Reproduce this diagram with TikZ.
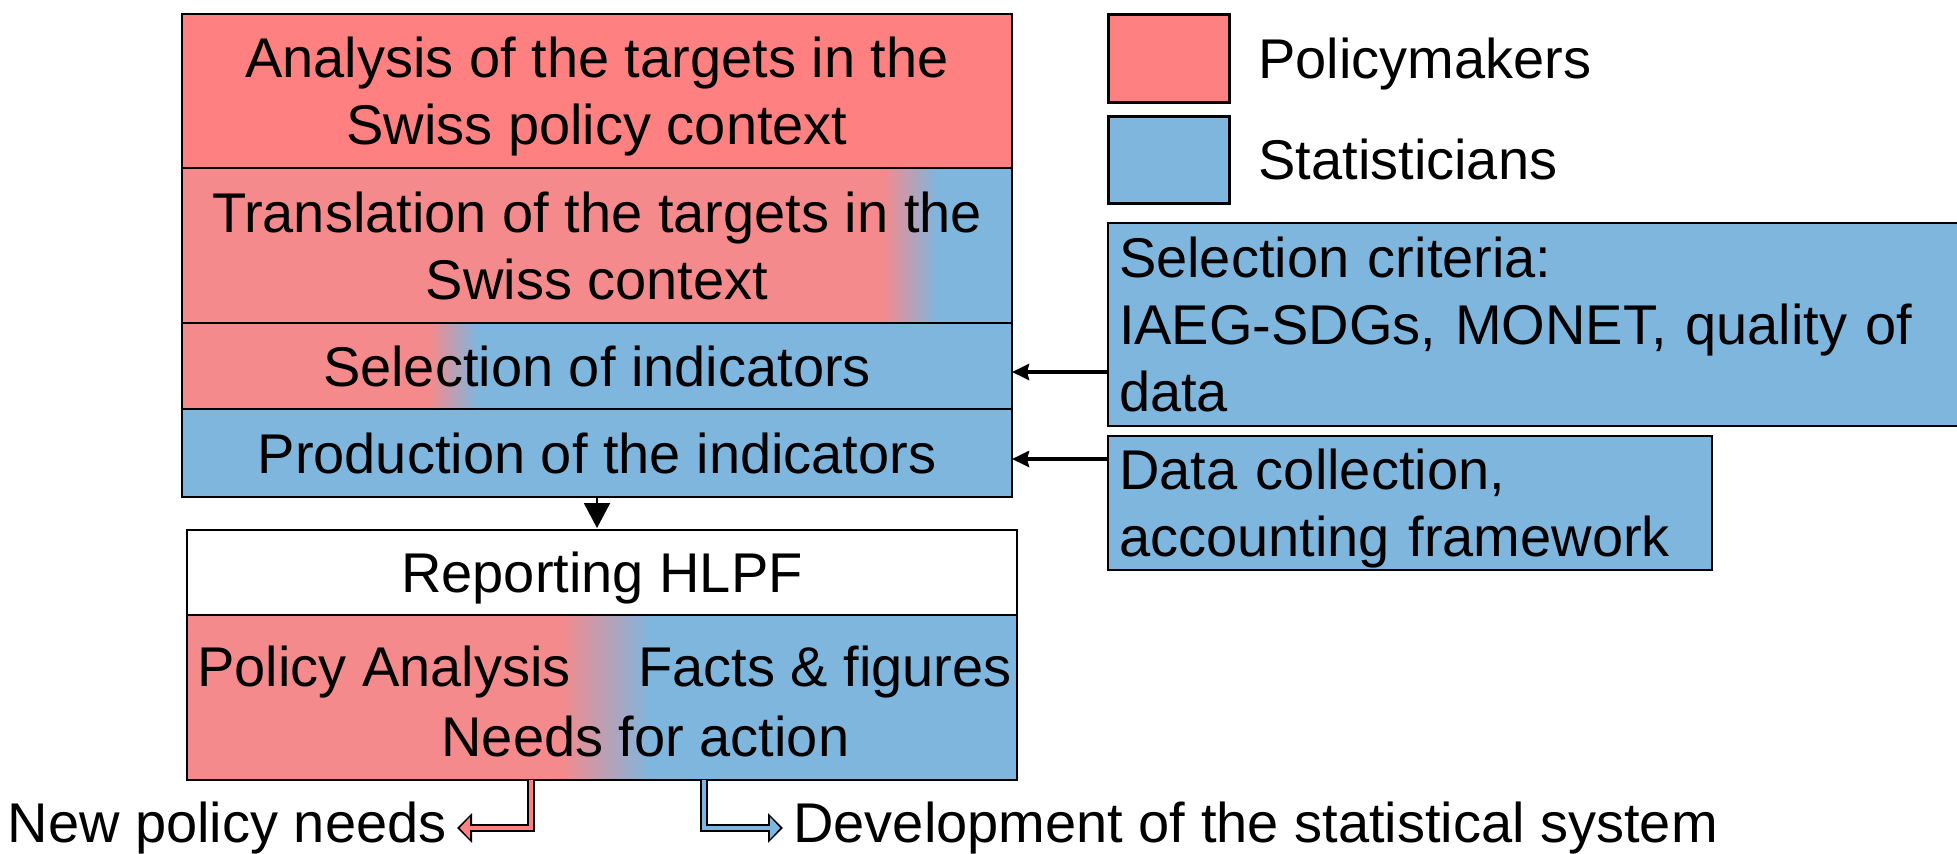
\documentclass[tikz,border=0pt]{standalone}
\usepackage{fontspec}
\setmainfont{Liberation Sans}
\usetikzlibrary{arrows.meta,positioning}

\definecolor{polred}{HTML}{FF8080}
\definecolor{polmix}{HTML}{F58A8C}
\definecolor{statblue}{HTML}{7FB6DD}
\pgfdeclarehorizontalshading{transshade}{100bp}{color(0bp)=(polmix); color(67.2bp)=(polmix); color(70.5bp)=(statblue); color(100bp)=(statblue)}
\pgfdeclarehorizontalshading{selshade}{100bp}{color(0bp)=(polmix); color(39.9bp)=(polmix); color(42.8bp)=(statblue); color(100bp)=(statblue)}
\pgfdeclarehorizontalshading{repshade}{100bp}{color(0bp)=(polmix); color(47.5bp)=(polmix); color(52.9bp)=(statblue); color(100bp)=(statblue)}

\begin{document}
\begin{tikzpicture}[node distance=0pt, every node/.style={font=\fontsize{28pt}{33.5pt}\selectfont}, stepbox/.style={rectangle, draw=black, line width=1.2pt, outer sep=0pt, minimum width=415pt, align=center, inner sep=0pt, text depth=-1pt}, sidebox/.style={rectangle, draw=black, line width=1.2pt, outer sep=0pt, fill=statblue, align=left, inner xsep=5.5pt, inner ysep=0pt}, keybox/.style={rectangle, draw=black, line width=1.5pt, outer sep=0pt, minimum width=60.5pt, minimum height=44pt}, keytext/.style={inner sep=0pt}, pil/.style={-{Stealth[length=8.5pt,width=8pt,inset=1pt]}, line width=2pt}, outarr/.style={line width=2.2pt, draw=#1, -{Triangle[length=5pt,width=10.5pt]}, shorten >=1.4pt, preaction={draw=black, line width=4pt, -{Triangle[length=7.5pt,width=14.5pt]}, shorten >=0pt}}]
	 \useasboundingbox (0,0) rectangle (978.5pt,-426.5pt);
	 % process column
	 \node[stepbox, fill=polred, minimum height=77pt, anchor=north west] (anal) at (91pt,-7pt) {Analysis of the targets in the\\Swiss policy context};
	 \node[stepbox, shade, shading=transshade, minimum height=77.5pt, below=of anal] (trans) {Translation of the targets in the\\Swiss context};
	 \node[stepbox, shade, shading=selshade, minimum height=43pt, below=of trans] (sel) {Selection of indicators};
	 \node[stepbox, fill=statblue, minimum height=44pt, below=of sel] (prod) {Production of the indicators};
	 \node[stepbox, fill=white, minimum height=42.5pt, below=16.5pt of prod, xshift=2.5pt] (rep) {Reporting HLPF};
	 \node[stepbox, shade, shading=repshade, minimum height=82.5pt, below=of rep] (rmix) {};
	 \node[keytext, anchor=west] (pa) at ([xshift=5pt,yshift=-28.5pt]rmix.north west) {Policy Analysis};
	 \node[keytext, anchor=east] (ff) at ([xshift=-2.5pt,yshift=-28.5pt]rmix.north east) {Facts \& figures};
	 \node[keytext] (nfa) at ([xshift=21.7pt,yshift=-60.5pt]rmix.north) {Needs for action};
	 % legend
	 \node[keybox, fill=polred, anchor=north west] (pol) at (554pt,-7pt) {};
	 \node[keybox, fill=statblue, minimum height=43.5pt, below=7pt of pol] (stat) {};
	 \node[keytext, text depth=0pt, right=14.5pt of pol] (poltxt) {Policymakers};
	 \node[keytext, text depth=0pt, right=14.5pt of stat] (stattxt) {Statisticians};
	 % inputs
	 \node[sidebox, text width=419pt, minimum height=101.5pt, below=10pt of stat.south west, anchor=north west] (crit) {Selection criteria:\\IAEG-SDGs, MONET, quality of\\data};
	 \node[sidebox, text width=291pt, text depth=33.5pt, minimum height=67pt, below=5pt of crit.south west, anchor=north west] (dcol) {Data collection,\\accounting framework};
	 % outputs
	 \node[keytext, inner xsep=5pt, anchor=east] (npn) at (228.5pt,-414pt) {New policy needs};
	 \node[keytext, inner xsep=5pt, anchor=west] (dev) at (391.5pt,-414pt) {Development of the statistical system};
	 \coordinate (selin) at ([yshift=-3pt]sel.east);
	 \coordinate (prodin) at ([yshift=-3pt]prod.east);
	 \path
	  (selin -| crit.west) edge[pil] (selin)
	  (prodin -| dcol.west) edge[pil] (prodin)
	  (prod.south) edge[-{Triangle[length=12.5pt,width=13pt]}, line width=1pt, shorten >=1pt] (prod.south |- rep.north);
	 \draw[outarr=polred] ([xshift=172pt]rmix.south west) |- (npn.east);
	 \draw[outarr=statblue] ([xshift=258.5pt]rmix.south west) |- (dev.west);
	\end{tikzpicture}
\end{document}
